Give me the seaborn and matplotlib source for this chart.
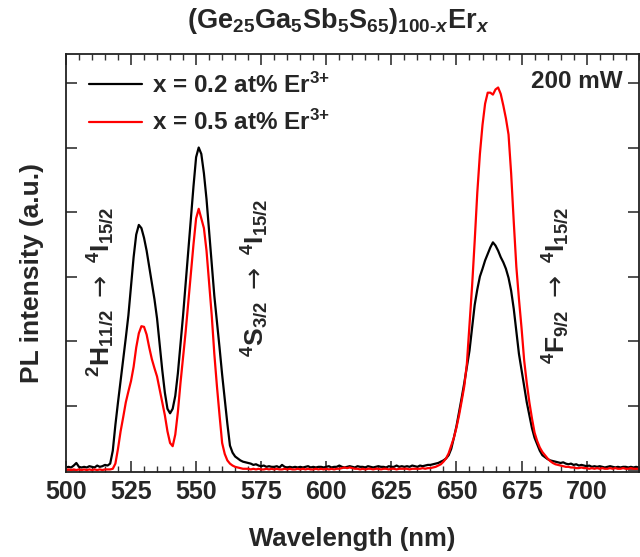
import numpy as np
import pandas as pd
import matplotlib
matplotlib.use("Agg")
import matplotlib.pyplot as plt
from matplotlib.ticker import MultipleLocator
import seaborn as sns

# Emission spectra of (Ge25Ga5Sb5S65)100-x Er x glasses, 1 nm steps
wavelength = np.arange(500, 721)

er_02 = [
    0.04, 0.05, 0.04, 0.07, 0.11, 0.05, 0.04, 0.05, 0.04, 0.06,   # 500
    0.05, 0.04, 0.07, 0.05, 0.06, 0.08, 0.07, 0.10, 0.30, 0.70,   # 510
    1.05, 1.38, 1.70, 2.05, 2.40, 2.85, 3.30, 3.65, 3.80, 3.75,   # 520
    3.60, 3.40, 3.15, 2.90, 2.65, 2.35, 1.95, 1.55, 1.20, 0.95,   # 530
    0.88, 0.95, 1.15, 1.50, 1.95, 2.40, 2.90, 3.40, 3.90, 4.40,   # 540
    4.85, 5.00, 4.90, 4.60, 4.20, 3.70, 3.20, 2.70, 2.30, 1.90,   # 550
    1.48, 1.10, 0.72, 0.38, 0.27, 0.21, 0.18, 0.15, 0.13, 0.12,   # 560
    0.11, 0.10, 0.08, 0.09, 0.07, 0.06, 0.07, 0.05, 0.06, 0.05,   # 570
    0.05, 0.06, 0.04, 0.08, 0.05, 0.04, 0.05, 0.04, 0.05, 0.04,   # 580
    0.05, 0.04, 0.05, 0.06, 0.04, 0.05, 0.04, 0.05, 0.05, 0.04,   # 590
    0.05, 0.06, 0.04, 0.05, 0.05, 0.07, 0.05, 0.04, 0.05, 0.06,   # 600
    0.05, 0.04, 0.06, 0.05, 0.05, 0.04, 0.06, 0.05, 0.04, 0.05,   # 610
    0.06, 0.05, 0.05, 0.04, 0.06, 0.05, 0.05, 0.07, 0.05, 0.06,   # 620
    0.05, 0.06, 0.05, 0.07, 0.06, 0.05, 0.07, 0.06, 0.07, 0.08,   # 630
    0.08, 0.09, 0.10, 0.11, 0.13, 0.15, 0.18, 0.23, 0.33, 0.50,   # 640
    0.68, 0.90, 1.12, 1.35, 1.60, 1.85, 2.20, 2.56, 2.80, 3.00,   # 650
    3.12, 3.25, 3.35, 3.45, 3.53, 3.48, 3.40, 3.30, 3.22, 3.12,   # 660
    2.98, 2.78, 2.50, 2.15, 1.80, 1.55, 1.30, 1.05, 0.85, 0.65,   # 670
    0.50, 0.40, 0.30, 0.23, 0.20, 0.17, 0.15, 0.14, 0.13, 0.12,   # 680
    0.11, 0.12, 0.10, 0.09, 0.10, 0.08, 0.09, 0.07, 0.08, 0.07,   # 690
    0.06, 0.07, 0.05, 0.06, 0.05, 0.06, 0.05, 0.04, 0.05, 0.06,   # 700
    0.05, 0.04, 0.05, 0.04, 0.05, 0.05, 0.04, 0.05, 0.04, 0.05,   # 710
    0.04,                                                         # 720
]

er_05 = [
    0.00, 0.01, 0.00, 0.01, 0.00, 0.01, 0.00, 0.01, 0.00, 0.01,   # 500
    0.00, 0.01, 0.00, 0.01, 0.00, 0.01, 0.01, 0.01, 0.02, 0.10,   # 510
    0.33, 0.60, 0.82, 1.05, 1.22, 1.38, 1.60, 1.90, 2.12, 2.23,   # 520
    2.22, 2.10, 1.90, 1.72, 1.58, 1.45, 1.25, 1.05, 0.85, 0.60,   # 530
    0.42, 0.37, 0.55, 0.90, 1.35, 1.75, 2.15, 2.60, 3.05, 3.50,   # 540
    3.90, 4.05, 3.90, 3.75, 3.40, 2.90, 2.40, 1.80, 1.30, 0.85,   # 550
    0.42, 0.25, 0.15, 0.10, 0.07, 0.05, 0.04, 0.03, 0.02, 0.02,   # 560
    0.02, 0.01, 0.02, 0.01, 0.02, 0.01, 0.01, 0.02, 0.01, 0.02,   # 570
    0.01, 0.02, 0.01, 0.01, 0.02, 0.01, 0.02, 0.01, 0.01, 0.02,   # 580
    0.01, 0.02, 0.01, 0.02, 0.01, 0.01, 0.02, 0.01, 0.02, 0.01,   # 590
    0.02, 0.01, 0.02, 0.01, 0.02, 0.02, 0.03, 0.04, 0.03, 0.04,   # 600
    0.03, 0.02, 0.02, 0.01, 0.02, 0.01, 0.02, 0.02, 0.01, 0.02,   # 610
    0.02, 0.01, 0.02, 0.02, 0.01, 0.02, 0.02, 0.01, 0.02, 0.02,   # 620
    0.02, 0.02, 0.01, 0.02, 0.02, 0.02, 0.02, 0.03, 0.02, 0.03,   # 630
    0.03, 0.04, 0.05, 0.07, 0.09, 0.13, 0.18, 0.26, 0.38, 0.50,   # 640
    0.66, 0.85, 1.07, 1.30, 1.65, 2.25, 2.85, 3.55, 4.30, 4.90,   # 650
    5.35, 5.68, 5.85, 5.85, 5.82, 5.90, 5.93, 5.83, 5.65, 5.45,   # 660
    5.20, 4.60, 3.85, 3.15, 2.65, 2.20, 1.70, 1.35, 1.05, 0.80,   # 670
    0.58, 0.45, 0.35, 0.28, 0.23, 0.18, 0.14, 0.11, 0.09, 0.08,   # 680
    0.07, 0.06, 0.05, 0.05, 0.04, 0.04, 0.03, 0.03, 0.04, 0.03,   # 690
    0.03, 0.02, 0.03, 0.02, 0.03, 0.02, 0.03, 0.02, 0.02, 0.03,   # 700
    0.02, 0.03, 0.02, 0.02, 0.03, 0.02, 0.02, 0.03, 0.02, 0.02,   # 710
    0.02,                                                         # 720
]

series_labels = [r"x = 0.2 at% Er$^{3{+}}$", r"x = 0.5 at% Er$^{3{+}}$"]
series_colors = ["#000000", "#ff0000"]

title_text = (r"$\mathrm{(Ge}_{25}\mathrm{Ga}_{5}\mathrm{Sb}_{5}\mathrm{S}_{65}"
              r"\mathrm{)}_{\mathrm{100\text{-}}x}\mathrm{Er}_{x}$")
transitions = [
    r"$^{2}\mathrm{H}_{11/2}\ \mathsf{\rightarrow}\ {}^{4}\mathrm{I}_{15/2}$",
    r"$^{4}\mathrm{S}_{3/2}\ \mathsf{\rightarrow}\ {}^{4}\mathrm{I}_{15/2}$",
    r"$^{4}\mathrm{F}_{9/2}\ \mathsf{\rightarrow}\ {}^{4}\mathrm{I}_{15/2}$",
]
power_text = "200 mW"

df = pd.concat([
    pd.DataFrame({"wavelength": wavelength, "intensity": er_02, "sample": series_labels[0]}),
    pd.DataFrame({"wavelength": wavelength, "intensity": er_05, "sample": series_labels[1]}),
])

sns.set_style("ticks")
plt.rcParams["font.family"] = ["Liberation Sans", "DejaVu Sans"]
plt.rcParams["font.weight"] = "bold"
plt.rcParams["mathtext.fontset"] = "custom"
plt.rcParams["mathtext.rm"] = "Liberation Sans:bold"
plt.rcParams["mathtext.bf"] = "Liberation Sans:bold"
plt.rcParams["mathtext.sf"] = "DejaVu Sans:weight=normal"
plt.rcParams["mathtext.it"] = "Liberation Sans:bold:italic"

fig = plt.figure(figsize=(6.4, 5.57), dpi=100)
ax = fig.add_axes([0.103, 0.1526, 0.895, 0.7505])

sns.lineplot(data=df, x="wavelength", y="intensity", hue="sample",
             palette=dict(zip(series_labels, series_colors)),
             linewidth=1.6, ax=ax, legend=True)

ax.set_xlim(500, 720)
ax.set_ylim(-0.03, 6.45)
ax.xaxis.set_major_locator(MultipleLocator(25))
ax.xaxis.set_minor_locator(MultipleLocator(5))
ax.yaxis.set_major_locator(MultipleLocator(1))
ax.tick_params(which="both", direction="in", top=True, right=True,
               labelleft=False, color="#333333")
ax.tick_params(which="major", length=8, width=1.2, labelsize=18, pad=6)
ax.tick_params(which="minor", length=4, width=1.0)
for lab in ax.get_xticklabels():
    lab.set_fontweight("bold")
for sp in ax.spines.values():
    sp.set_linewidth(1.3)
    sp.set_color("#222222")

ax.set_xlabel("Wavelength (nm)", fontsize=18.5, fontweight="bold", labelpad=16)
ax.set_ylabel("PL intensity (a.u.)", fontsize=19, fontweight="bold")
ax.yaxis.set_label_coords(-0.038, 0.476)

fig.text(0.528, 0.962, title_text, fontsize=19.5, ha="center", va="center")

leg = ax.legend(loc="upper left", bbox_to_anchor=(0.04, 0.955), frameon=False,
                prop={"family": "Liberation Sans", "weight": "bold", "size": 17.5},
                handlelength=2.2, handletextpad=0.4, labelspacing=0.5,
                borderpad=0, borderaxespad=0)
for line in leg.get_lines():
    line.set_linewidth(1.6)

ax.text(0.972, 0.933, power_text, transform=ax.transAxes, fontsize=17.5,
        fontweight="bold", ha="right", va="center")

label_pos = [(0.061, 0.43), (0.33, 0.464), (0.855, 0.445)]
for txt, (lx, ly) in zip(transitions, label_pos):
    ax.text(lx, ly, txt, transform=ax.transAxes, rotation=90, fontsize=19,
            ha="center", va="center")

fig.savefig("out.png", dpi=100)
